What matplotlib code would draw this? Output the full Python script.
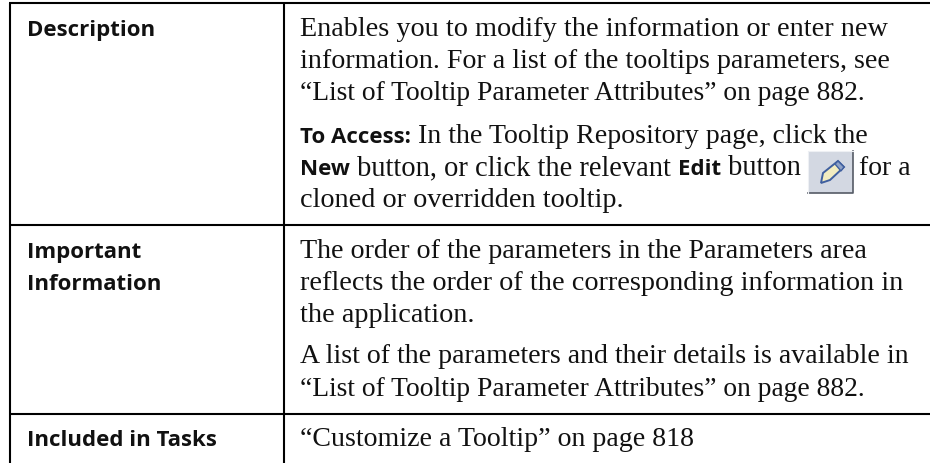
import matplotlib
matplotlib.use("Agg")
import matplotlib.pyplot as plt
from matplotlib.patches import Rectangle, Polygon

W, H = 930, 464
row_labels = ["Description", "Important", "Information", "Included in Tasks"]
row_label_baselines = [36, 258, 290, 446]
body_text = [
    [("Enables you to modify the information or enter new", 0)],
    [("information. For a list of the tooltips parameters, see", 0)],
    [("“List of Tooltip Parameter Attributes” on page 882.", 0)],
    [("To Access:", 1), (" In the Tooltip Repository page, click the", 0)],
    [("New", 1), (" button, or click the relevant ", 0), ("Edit", 1), (" button", 0)],
    [("cloned or overridden tooltip.", 0)],
    [("The order of the parameters in the Parameters area", 0)],
    [("reflects the order of the corresponding information in", 0)],
    [("the application.", 0)],
    [("A list of the parameters and their details is available in", 0)],
    [("“List of Tooltip Parameter Attributes” on page 882.", 0)],
    [("“Customize a Tooltip” on page 818", 0)],
]
body_baselines = [36, 68, 100, 143, 175, 207, 258, 290, 322, 363, 396, 446]
body_right_ends = [885, 886, 863, 865, 800, 622, 863, 900, 473, 905, 863, 691]
h_rules = [4, 226, 415]
v_rules = [10, 284]

fig = plt.figure(figsize=(W/100, H/100), dpi=100, facecolor="white")
ax = fig.add_axes([0, 0, 1, 1])
ax.set_xlim(0, W); ax.set_ylim(H, 0); ax.axis("off")

for y in h_rules:
    ax.plot([v_rules[0]-1, W], [y, y], color="black", lw=1.5, solid_capstyle="butt")
for x in v_rules:
    ax.plot([x, x], [h_rules[0], H], color="black", lw=1.5, solid_capstyle="butt")

LABEL = dict(family="Open Sans", weight="bold", size=16.0, color="#111111", va="baseline")
INLINE = dict(family="Open Sans", weight="bold", size=16.0, color="#111111", va="baseline")
SERIF = dict(family="Liberation Serif", color="#111111", va="baseline")
for t, y in zip(row_labels, row_label_baselines):
    ax.text(27, y, t, **LABEL)

r = fig.canvas.get_renderer()
def width(t, **style):
    probe = ax.text(0, 0, "|" + t + "|", **style)
    bar = ax.text(0, 0, "||", **style)
    w = probe.get_window_extent(r).width - bar.get_window_extent(r).width
    probe.remove(); bar.remove()
    return w

X0 = 300
BASE = 19.4
for y, end, segs in zip(body_baselines, body_right_ends, body_text):
    sans_w = sum(width(t, **INLINE) for t, b in segs if b)
    serif_w = sum(width(t, size=BASE, **SERIF) for t, b in segs if not b)
    size = BASE * (end - X0 - sans_w) / serif_w
    x = X0
    for t, b in segs:
        style = INLINE if b else dict(size=size, **SERIF)
        ax.text(x, y, t, **style)
        x += width(t, **style)
ax.text(859, 175, "for a", size=20, **SERIF)

# edit button icon
ax.add_patch(Rectangle((808, 152), 45, 42, fc="#d3d8e2", ec="none"))
ax.plot([808, 853, 853], [194, 194, 152], color="#555b66", lw=1.2)
ax.plot([808, 808, 853], [194, 152, 152], color="#eef0f4", lw=0.8)
ax.add_patch(Polygon([(821, 184), (823, 174), (838, 162), (844, 168), (830, 181)],
                     fc="#f2ecc0", ec="#3f5f9f", lw=1.4))
ax.add_patch(Polygon([(835, 165), (838, 162), (844, 168), (841, 172)], fc="#8fa3c8", ec="#3f5f9f", lw=1))

fig.savefig("out.png", dpi=100)
